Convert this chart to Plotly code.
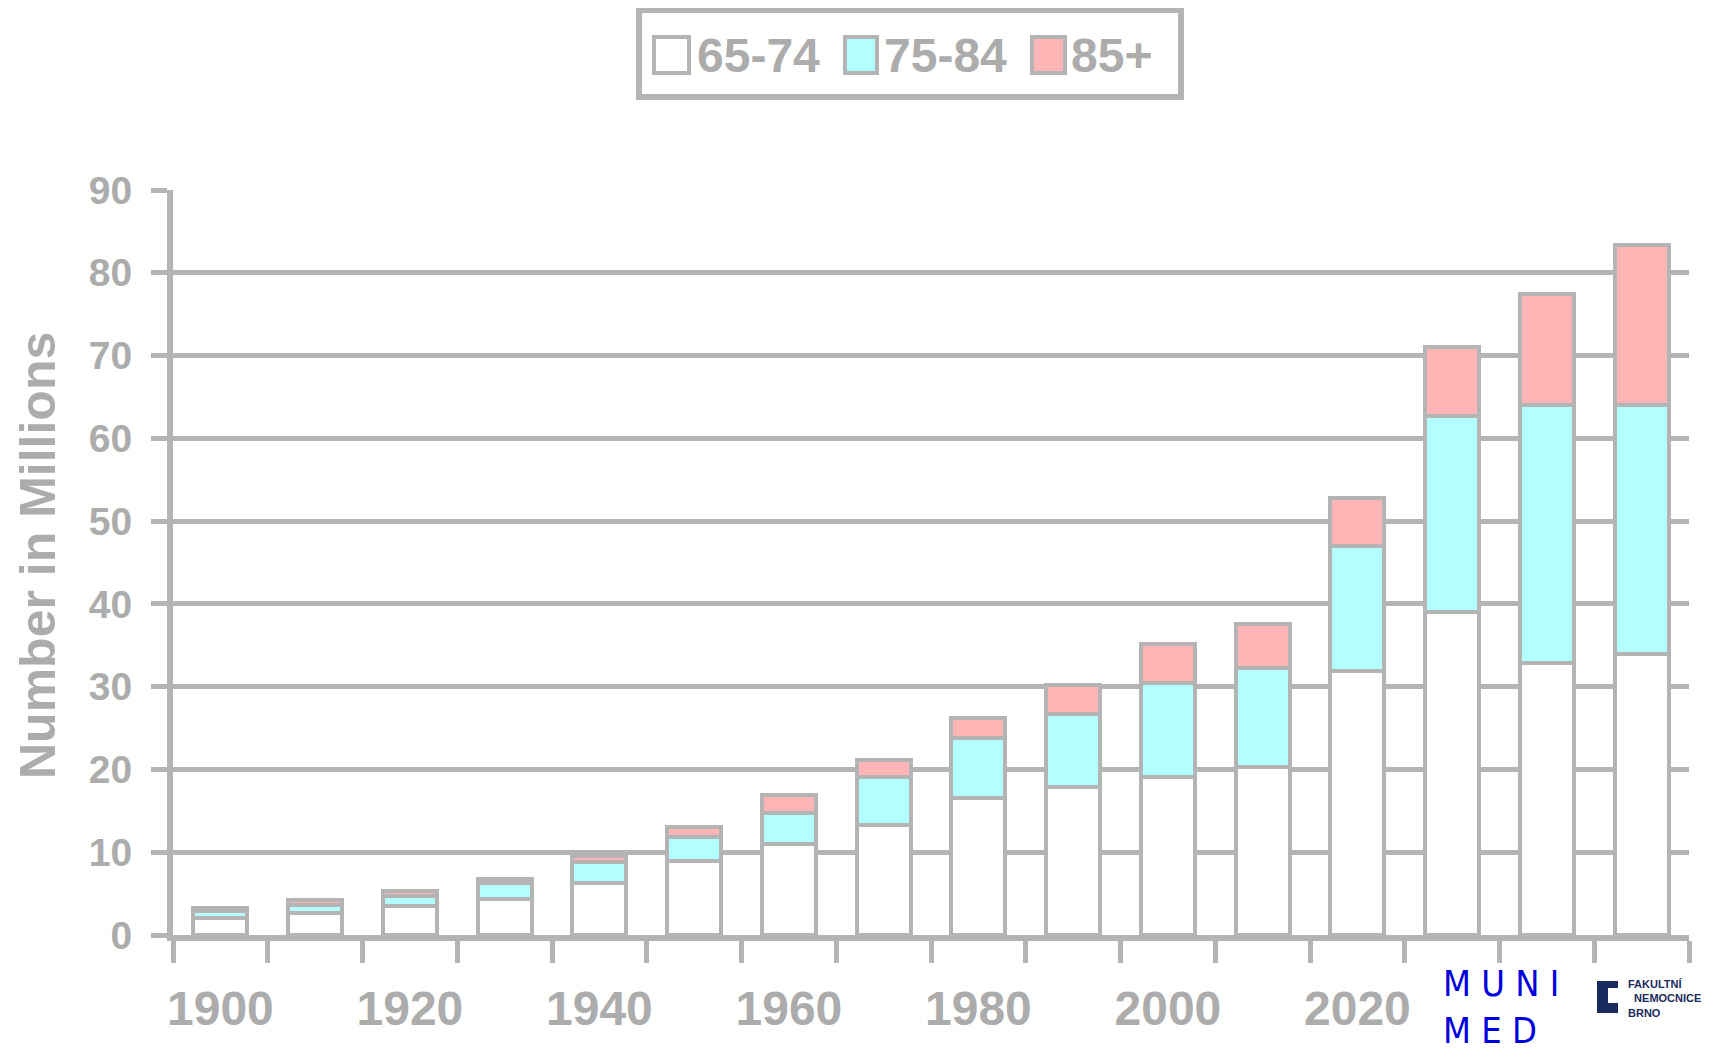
import plotly.graph_objects as go

# ---- data ----
years = [1900, 1910, 1920, 1930, 1940, 1950, 1960, 1970, 1980, 1990, 2000, 2010, 2020, 2030, 2040, 2050]
age_65_74 = [2.1, 2.6, 3.5, 4.3, 6.3, 8.9, 11.0, 13.3, 16.6, 17.9, 19.1, 20.3, 31.9, 39.0, 32.9, 33.9]
age_75_84 = [0.8, 1.0, 1.2, 2.0, 2.5, 2.9, 3.7, 5.8, 7.2, 8.8, 11.4, 12.0, 15.1, 23.7, 31.1, 30.1]
age_85_plus = [0.4, 0.6, 0.6, 0.5, 0.8, 1.2, 2.2, 2.0, 2.4, 3.5, 4.6, 5.3, 5.8, 8.3, 13.4, 19.4]
series_names = ["65-74", "75-84", "85+"]
label_years = [1900, 1920, 1940, 1960, 1980, 2000, 2020]
y_ticks = [0, 10, 20, 30, 40, 50, 60, 70, 80, 90]
y_title = "Number in Millions"

# ---- layout geometry (screen pixels; page body has an 8px margin) ----
W, H = 1727, 1062
OFF = 8
FW, FH = W - 2 * OFF, H - 2 * OFF
L, R, T, B = 173, 1689, 190, 935
GRAY = "#b4b4b4"
TXT = "#acacac"
FONT = "Liberation Sans, Arial, sans-serif"
colors = ["#ffffff", "#b3ffff", "#ffb5b5"]


def px(x):
    return (x - L) / (R - L)


def py(y):
    return (B - y) / (B - T)


fig = go.Figure()
for name, vals, col in zip(series_names, [age_65_74, age_75_84, age_85_plus], colors):
    fig.add_trace(go.Bar(
        x=years, y=vals, name=name, width=5.7,
        marker=dict(color=col, line=dict(color=GRAY, width=4)),
        showlegend=False,
    ))

shapes = []
annotations = []

# custom legend
shapes.append(dict(type="rect", xref="paper", yref="paper", x0=px(639), x1=px(1181), y0=py(97), y1=py(10),
                   fillcolor="white", line=dict(color=GRAY, width=6)))
sw = [(654, 689, 695), (845, 877, 882), (1032, 1065, 1069)]
for (x0, x1, tx), name, col in zip(sw, series_names, colors):
    shapes.append(dict(type="rect", xref="paper", yref="paper", x0=px(x0), x1=px(x1), y0=py(73), y1=py(37),
                       fillcolor=col, line=dict(color=GRAY, width=4)))
    annotations.append(dict(xref="paper", yref="paper", x=px(tx), y=py(56), text="<b>%s</b>" % name,
                            showarrow=False, xanchor="left", yanchor="middle",
                            font=dict(family=FONT, size=48, color=TXT)))

# y axis title
annotations.append(dict(xref="paper", yref="paper", x=px(38), y=py(556), text="<b>%s</b>" % y_title,
                        textangle=-90, showarrow=False, xanchor="center", yanchor="middle",
                        font=dict(family=FONT, size=50, color=TXT)))

# logos (as text)
MUNI_FONT = "Liberation Sans Narrow, DejaVu Sans Condensed, sans-serif"
annotations.append(dict(xref="paper", yref="paper", x=px(1441), y=py(1053), text="M U N I<br>M E D",
                        showarrow=False, xanchor="left", yanchor="bottom", align="left",
                        font=dict(family=MUNI_FONT, size=36, color="#0000dc")))
NAVY = "#1b2a5c"
path = "M {a},{b} L {c},{b} L {c},{d} L {e},{d} L {e},{f} L {c},{f} L {c},{g} L {a},{g} Z".format(
    a=px(1597), c=px(1618), e=px(1608), b=py(981), d=py(988), f=py(1003), g=py(1013))
shapes.append(dict(type="path", xref="paper", yref="paper", path=path, fillcolor=NAVY, line=dict(width=0)))
annotations.append(dict(xref="paper", yref="paper", x=px(1626), y=py(998),
                        text="<b>FAKULTNÍ</b><br><b>\u00a0\u00a0NEMOCNICE</b><br><b>BRNO</b>",
                        showarrow=False, xanchor="left", yanchor="middle", align="left",
                        font=dict(family=FONT, size=11, color=NAVY)))

fig.update_layout(
    width=FW, height=FH, autosize=False,
    margin=dict(l=L - OFF, r=FW - (R - OFF), t=T - OFF, b=FH - (B - OFF), pad=0),
    paper_bgcolor="white", plot_bgcolor="white",
    barmode="stack", bargap=0,
    shapes=shapes, annotations=annotations,
    showlegend=False,
    xaxis=dict(
        range=[1895, 2055], showgrid=False, zeroline=False,
        showline=True, linecolor=GRAY, linewidth=6,
        tickmode="array", tickvals=label_years, ticktext=[str(v) for v in label_years],
        ticks="", ticklabelstandoff=26,
        tickfont=dict(family=FONT, size=48, color=TXT, weight="bold"),
        minor=dict(ticks="outside", tickmode="linear", tick0=1895, dtick=10,
                   ticklen=22, tickwidth=5, tickcolor=GRAY, showgrid=False),
    ),
    yaxis=dict(
        range=[0, 90], tickmode="array", tickvals=y_ticks, ticktext=[str(v) for v in y_ticks],
        showgrid=True, gridcolor=GRAY, gridwidth=5, zeroline=False,
        showline=True, linecolor=GRAY, linewidth=6,
        ticks="outside", ticklen=16, tickwidth=5, tickcolor=GRAY,
        ticklabelstandoff=11,
        tickfont=dict(family=FONT, size=39, color=TXT, weight="bold"),
    ),
)

fig.write_html("out.html")
